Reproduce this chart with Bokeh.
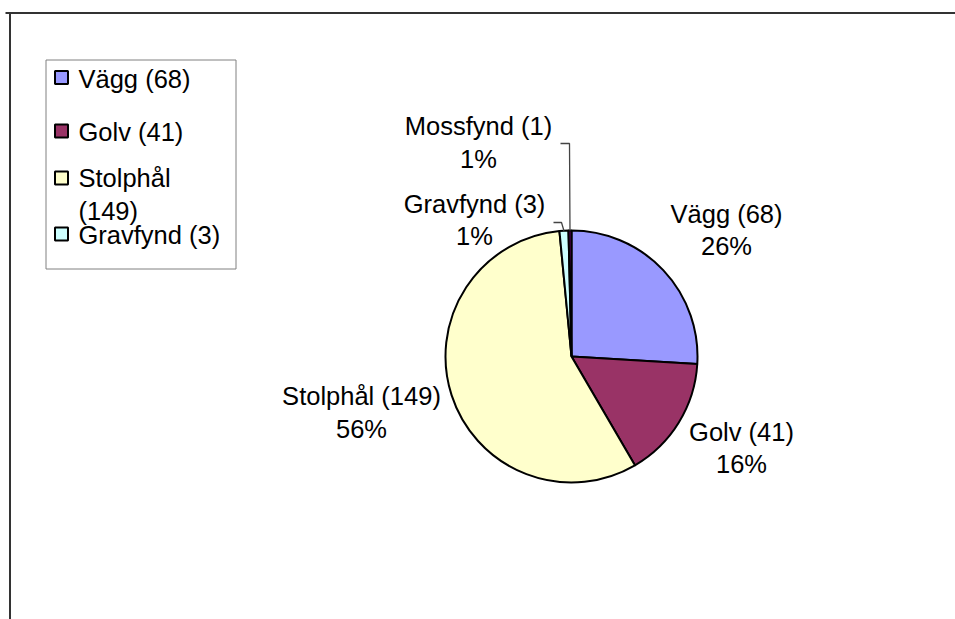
import math
from bokeh.plotting import figure
from bokeh.models import Range1d, ColumnDataSource
from bokeh.core.properties import value
from bokeh.embed import file_html
from bokeh.resources import INLINE

# ---- data ----
categories = ["Vägg", "Golv", "Stolphål", "Gravfynd", "Mossfynd"]
counts = [68, 41, 149, 3, 1]
pct_labels = ["26%", "16%", "56%", "1%", "1%"]
colors = ["#9999FF", "#993366", "#FFFFCC", "#CCFFFF", "#660066"]
legend_entries = ["Vägg (68)", "Golv (41)", "Stolphål\n(149)", "Gravfynd (3)"]

W, H = 955, 619
OX, OY = 0, 0  # page offset of the figure
TXT_SHIFT = -8  # baseline correction


def py(page_y):
    return (OY + H) - page_y


def ty(page_y):
    return py(page_y + TXT_SHIFT)


FONT = value("Liberation Sans")
FS = "25.5px"

p = figure(width=W, height=H, output_backend="svg", toolbar_location=None,
           x_range=Range1d(OX, OX + W), y_range=Range1d(0, H),
           min_border=0, outline_line_color=None)
p.axis.visible = False
p.grid.visible = False
p.background_fill_color = "white"
p.border_fill_color = "white"

# frame lines (top and left)
p.line([5, OX + W], [py(12.5), py(12.5)], line_color="#333333", line_width=2)
p.line([9.5, 9.5], [py(12.5), py(OY + H)], line_color="#333333", line_width=2)

# ---- pie ----
cx, cy, R = 571, py(356), 126
total = sum(counts)
starts, ends, mids = [], [], []
acc = 0
for c in counts:
    a0 = math.pi / 2 - 2 * math.pi * acc / total
    acc += c
    a1 = math.pi / 2 - 2 * math.pi * acc / total
    starts.append(a0)
    ends.append(a1)
    mids.append((a0 + a1) / 2)

src = ColumnDataSource(dict(start=starts, end=ends, color=colors))
p.wedge(x=cx, y=cy, radius=R, start_angle="start", end_angle="end",
        direction="clock", fill_color="color", line_color="black",
        line_width=2, source=src)

# ---- data labels ----
label_pos = {  # page coords: (center x, baseline line1, baseline line2)
    "Vägg": (726, 221.5, 253.5),
    "Golv": (741, 439, 471.5),
    "Stolphål": (361, 403, 436.5),
    "Gravfynd": (474, 211.5, 243.5),
    "Mossfynd": (478, 133.5, 166.5),
}
for cat, cnt, pct in zip(categories, counts, pct_labels):
    x, b1, b2 = label_pos[cat]
    p.text(x=[x, x], y=[ty(b1), ty(b2)], text=[f"{cat} ({cnt})", pct],
           text_font=FONT, text_font_size=FS, text_color="black",
           text_align="center", text_baseline="alphabetic")

# leader lines for the small slices
for i, (hx0, hx1, hy) in zip([3, 4], [(553, 561, 222), (560, 569, 143)]):
    ex = cx + R * math.cos(mids[i])
    ey = cy + R * math.sin(mids[i])
    p.line([hx0, hx1, ex], [py(hy), py(hy), ey], line_color="#444444", line_width=1.3)

# ---- legend ----
p.quad(left=45.5, right=235.5, top=py(59.5), bottom=py(268.5),
       fill_color="white", line_color="#808080", line_width=1)
marker_y = [77, 130.5, 177.5, 233.5]
text_base = [[86], [139.5], [185, 218.5], [242.5]]
for entry, col, my, bases in zip(legend_entries, colors, marker_y, text_base):
    p.rect(x=[61], y=[py(my)], width=13, height=13, fill_color=col,
           line_color="black", line_width=2)
    for line, b in zip(entry.split("\n"), bases):
        p.text(x=[78], y=[ty(b)], text=[line], text_font=FONT, text_font_size=FS,
               text_color="black", text_align="left", text_baseline="alphabetic")

open("out.html", "w").write(file_html(p, INLINE))
